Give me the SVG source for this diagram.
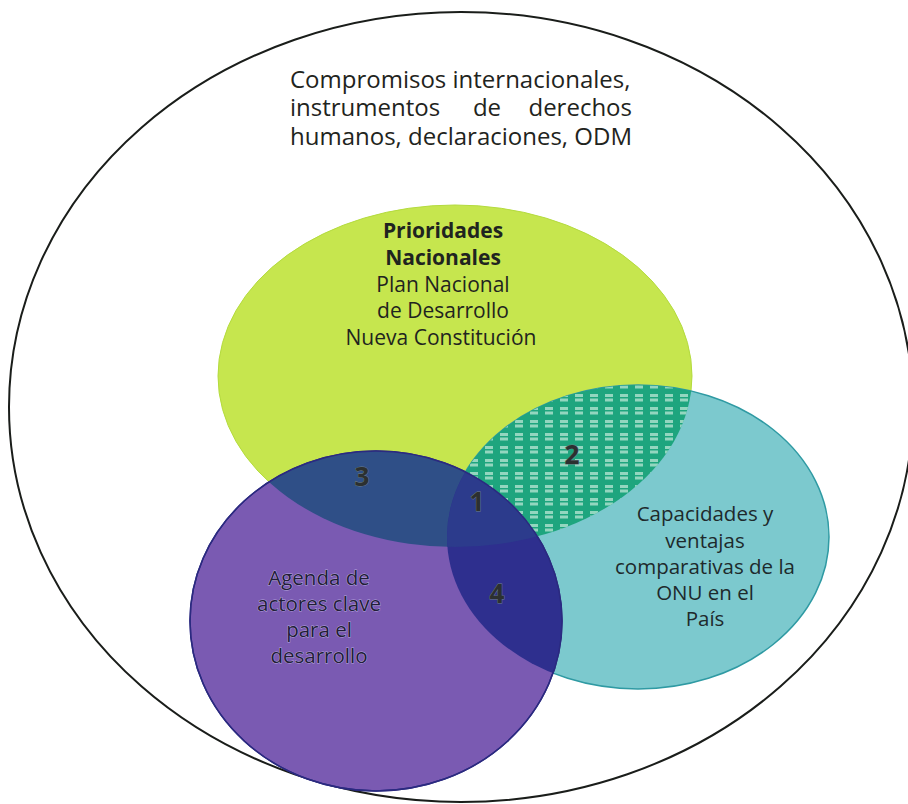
<svg xmlns="http://www.w3.org/2000/svg" width="908" height="804" viewBox="0 0 908 804">
  <style>
    .txt { font-family: "Open Sans", "Noto Sans", "Liberation Sans", sans-serif; fill: #1f2420; }
    .top { font-size: 24px; }
    .gr { font-size: 21px; text-anchor: middle; }
    .b { font-weight: bold; }
    .tl { font-size: 20.5px; text-anchor: middle; fill: #1e2a2c; }
    .pu { font-size: 20.5px; text-anchor: middle; fill: #221d38; stroke: #b8a9de; stroke-width: 0.9; paint-order: stroke; }
    .num { font-family: "Open Sans", "Noto Sans", "Liberation Sans", sans-serif; font-size: 26px; font-weight: bold; text-anchor: middle; fill: #2c3030; stroke: #6f7f86; stroke-width: 0.8; paint-order: stroke; }
  </style>
  <defs>
    <ellipse id="eG" cx="455" cy="376" rx="237" ry="171"/>
    <ellipse id="eT" cx="638" cy="537" rx="191" ry="152"/>
    <ellipse id="eP" cx="376" cy="621" rx="186" ry="170"/>
    <clipPath id="cG"><use href="#eG"/></clipPath>
    <clipPath id="cT"><use href="#eT"/></clipPath>
    <pattern id="grid" width="15" height="13" patternUnits="userSpaceOnUse" x="3" y="2">
      <rect x="2" y="2" width="8" height="3" fill="#b9e6d4" opacity="0.75"/>
      <rect x="2" y="6.5" width="8" height="3" fill="#b9e6d4" opacity="0.75"/>
    </pattern>
  </defs>

  <g id="outer">
    <ellipse cx="461" cy="407" rx="452" ry="395" fill="#ffffff" stroke="#1a1d1a" stroke-width="2"/>
    <text class="txt top" x="290" y="88">Compromisos internacionales,</text>
    <text class="txt top" x="290" y="116">instrumentos</text>
    <text class="txt top" x="487" y="116" text-anchor="middle">de</text>
    <text class="txt top" x="632" y="116" text-anchor="end">derechos</text>
    <text class="txt top" x="290" y="145">humanos, declaraciones, ODM</text>
  </g>

  <g id="prioridades">
    <use href="#eG" fill="#c6e64e" stroke="#b4db3e" stroke-width="1"/>
  </g>
  <g id="capacidades">
    <use href="#eT" fill="#7cc9ce" stroke="#2f9aa3" stroke-width="1.5"/>
  </g>
  <g id="agenda">
    <use href="#eP" fill="#7a5ab2" stroke="#2b2a80" stroke-width="1.5"/>
  </g>

  <g id="overlaps">
    <g id="region2" clip-path="url(#cG)">
      <use href="#eT" fill="#1ea57e"/>
      <use href="#eT" fill="url(#grid)"/>
    </g>
    <g id="region3" clip-path="url(#cG)">
      <use href="#eP" fill="#2f4f87"/>
    </g>
    <g id="region4" clip-path="url(#cT)">
      <use href="#eP" fill="#2e2f8e"/>
    </g>
    <g id="region1" clip-path="url(#cG)">
      <g clip-path="url(#cT)">
        <use href="#eP" fill="#2c3b8c"/>
      </g>
    </g>
    <use href="#eP" fill="none" stroke="#2b2a80" stroke-width="1.5"/>
  </g>

  <g id="labels">
    <text class="txt gr b" x="443" y="238">Prioridades</text>
    <text class="txt gr b" x="443" y="265">Nacionales</text>
    <text class="txt gr" x="443" y="292">Plan Nacional</text>
    <text class="txt gr" x="443" y="318">de Desarrollo</text>
    <text class="txt gr" x="441" y="345">Nueva Constitución</text>

    <text class="txt tl" x="705" y="521">Capacidades y</text>
    <text class="txt tl" x="705" y="548">ventajas</text>
    <text class="txt tl" x="705" y="574">comparativas de la</text>
    <text class="txt tl" x="705" y="600">ONU en el</text>
    <text class="txt tl" x="705" y="626">País</text>

    <text class="txt pu" x="319" y="585">Agenda de</text>
    <text class="txt pu" x="319" y="611">actores clave</text>
    <text class="txt pu" x="319" y="637">para el</text>
    <text class="txt pu" x="319" y="663">desarrollo</text>

    <text class="num" x="362" y="486">3</text>
    <text class="num" x="572" y="464">2</text>
    <text class="num" x="477" y="511">1</text>
    <text class="num" x="497" y="603">4</text>
  </g>
</svg>
